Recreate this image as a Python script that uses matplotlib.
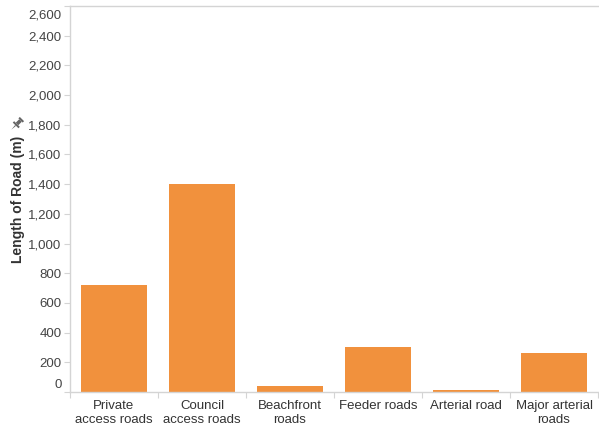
import matplotlib
matplotlib.use("Agg")
import matplotlib.pyplot as plt
import matplotlib.transforms as mtransforms
from matplotlib.patches import Polygon
import numpy as np

plt.rcParams['font.family'] = ['Liberation Sans', 'DejaVu Sans']

categories = ["Private\naccess roads", "Council\naccess roads", "Beachfront\nroads",
              "Feeder roads", "Arterial road", "Major arterial\nroads"]
lengths = [720, 1400, 40, 300, 15, 260]
y_ticks = [0, 200, 400, 600, 800, 1000, 1200, 1400, 1600, 1800, 2000, 2200, 2400, 2600]
y_tick_labels = [f"{v:,}" for v in y_ticks]

W, H = 599, 428
fig = plt.figure(figsize=(W / 100, H / 100), dpi=100)
ax = fig.add_axes([70 / W, (H - 392) / H, (598 - 70) / W, (392 - 6) / H])

x = np.arange(len(categories))
ax.bar(x, lengths, width=0.76, color="#F1913D", zorder=2)

ax.set_xlim(-0.5, len(categories) - 0.5)
ax.set_ylim(0, 2600)

grid_c = "#d4d4d4"
for side in ["left", "bottom", "top"]:
    ax.spines[side].set_color(grid_c)
    ax.spines[side].set_linewidth(1.0)
ax.spines["right"].set_visible(False)

ax.set_yticks(y_ticks)
ax.set_yticklabels(y_tick_labels)
ax.tick_params(axis="y", length=4, width=0.8, color=grid_c, pad=2,
               labelsize=9.5, labelcolor="#444444")

# keep the end labels inside the frame
for lbl, val in zip(ax.get_yticklabels(), y_ticks):
    if val == 0:
        lbl.set_transform(lbl.get_transform() +
                          mtransforms.ScaledTranslation(0, 8 / 100, fig.dpi_scale_trans))
    elif val == 2600:
        lbl.set_transform(lbl.get_transform() +
                          mtransforms.ScaledTranslation(0, -8 / 100, fig.dpi_scale_trans))

# category labels with separators between categories
ax.set_xticks(x)
ax.set_xticklabels(categories)
ax.tick_params(axis="x", length=0, pad=6, labelsize=9.5, labelcolor="#333333")
ax.set_xticks(np.arange(-0.5, len(categories), 1.0), minor=True)
ax.tick_params(axis="x", which="minor", length=4, width=0.8, color=grid_c)

ax.set_ylabel("Length of Road (m)", fontsize=10, fontweight="bold", color="#333333")
ax.yaxis.set_label_coords(-(70 - 25) / (598 - 70), (392 - 199) / (392 - 6))

# small pushpin icon beside the axis title, tilted so the needle points down-left
cx, cy = 17, 124  # pixel centre (from top-left)
ang = np.deg2rad(-45)
rot = np.array([[np.cos(ang), -np.sin(ang)], [np.sin(ang), np.cos(ang)]])


def pin_part(pts):
    out = []
    for px, py in pts:
        rx, ry = rot @ np.array([px, py])
        out.append(((cx + rx) / W, (H - cy + ry) / H))
    return Polygon(out, closed=True, transform=fig.transFigure,
                   facecolor="#666666", edgecolor="none")


pin_parts = [
    [(-3, 7), (3, 7), (3, 5), (-3, 5)],          # cap
    [(-1.8, 5), (1.8, 5), (1.8, 0), (-1.8, 0)],  # body
    [(-4, 0), (4, 0), (4, -2), (-4, -2)],        # flange
    [(-0.6, -2), (0.6, -2), (0, -8)],            # needle
]
for part in pin_parts:
    fig.patches.append(pin_part(part))

fig.savefig("out.png", dpi=100)
